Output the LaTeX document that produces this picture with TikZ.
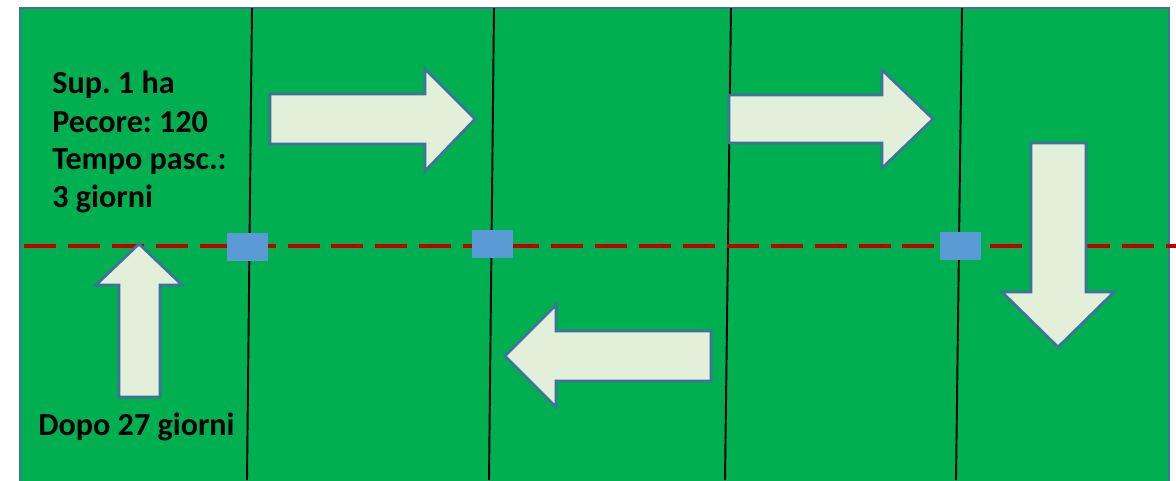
\documentclass[tikz,border=0pt]{standalone}
\usepackage{fontspec}
\setmainfont{Carlito}
\frenchspacing
\definecolor{field}{HTML}{00B050}
\definecolor{edge}{HTML}{41719C}
\definecolor{arrowfill}{HTML}{E2F0D9}
\definecolor{gate}{HTML}{5B9BD5}
\definecolor{fence}{HTML}{C00000}
\tikzset{
  bigarrow/.style={draw=edge, line width=1.5pt, fill=arrowfill, line join=miter},
  divider/.style={draw=black, line width=1.1pt},
  gatebox/.style={fill=gate, draw=none},
  fenceline/.style={draw=fence, line width=2.3pt, dash pattern=on 18.2pt off 6.8pt},
  lbl/.style={font=\fontsize{18.3}{22}\selectfont\bfseries, inner sep=0pt, anchor=base west}
}
\begin{document}
\begin{tikzpicture}[x=0.02cm, y=-0.02cm]
\useasboundingbox (0,0) rectangle (1176,480);
\clip (0,0) rectangle (1176,480);
% field
\path[fill=field, draw=edge, line width=1.5pt] (20,8) rectangle (1169,500);
% dividers
\coordinate (d1t) at (252,8); \coordinate (d1b) at (247,480);
\coordinate (d2t) at (494,8); \coordinate (d2b) at (489,480);
\coordinate (d3t) at (731,8); \coordinate (d3b) at (725,480);
\coordinate (d4t) at (962,8); \coordinate (d4b) at (956,480);
\draw[divider] (d1t) -- (d1b);
\draw[divider] (d2t) -- (d2b);
\draw[divider] (d3t) -- (d3b);
\draw[divider] (d4t) -- (d4b);
% fence
\coordinate (fs) at (24,246); \coordinate (fe) at (1180,246);
\draw[fenceline] (fs) -- (fe);
% gates
\fill[gatebox] (227,233) rectangle (268,261);
\fill[gatebox] (472,230) rectangle (513,258);
\fill[gatebox] (940,232) rectangle (981,260);
% arrows
\path[bigarrow] (270,94) -- (425,94) -- (425,69) -- (475,119) -- (425,171) -- (425,144) -- (270,144) -- cycle;
\path[bigarrow] (729,95) -- (882,95) -- (882,70) -- (933,119) -- (882,168) -- (882,143) -- (729,143) -- cycle;
\path[bigarrow] (1031,143) -- (1086,143) -- (1086,292) -- (1114,292) -- (1058,347) -- (1002,292) -- (1031,292) -- cycle;
\path[bigarrow] (711,331) -- (556,331) -- (556,305) -- (505,356) -- (556,407) -- (556,381) -- (711,381) -- cycle;
\path[bigarrow] (119,397) -- (119,285) -- (96,285) -- (139,244) -- (182,285) -- (160,285) -- (160,397) -- cycle;
% labels
\node[lbl] (l1) at (52,93) {Sup. 1 ha};
\node[lbl] (l2) at (52,132) {Pecore: 120};
\node[lbl] (l3) at (52,169) {Tempo pasc.:};
\node[lbl] (l4) at (52,207) {3 giorni};
\node[lbl] (l5) at (38,435) {Dopo 27 giorni};
\end{tikzpicture}
\end{document}
